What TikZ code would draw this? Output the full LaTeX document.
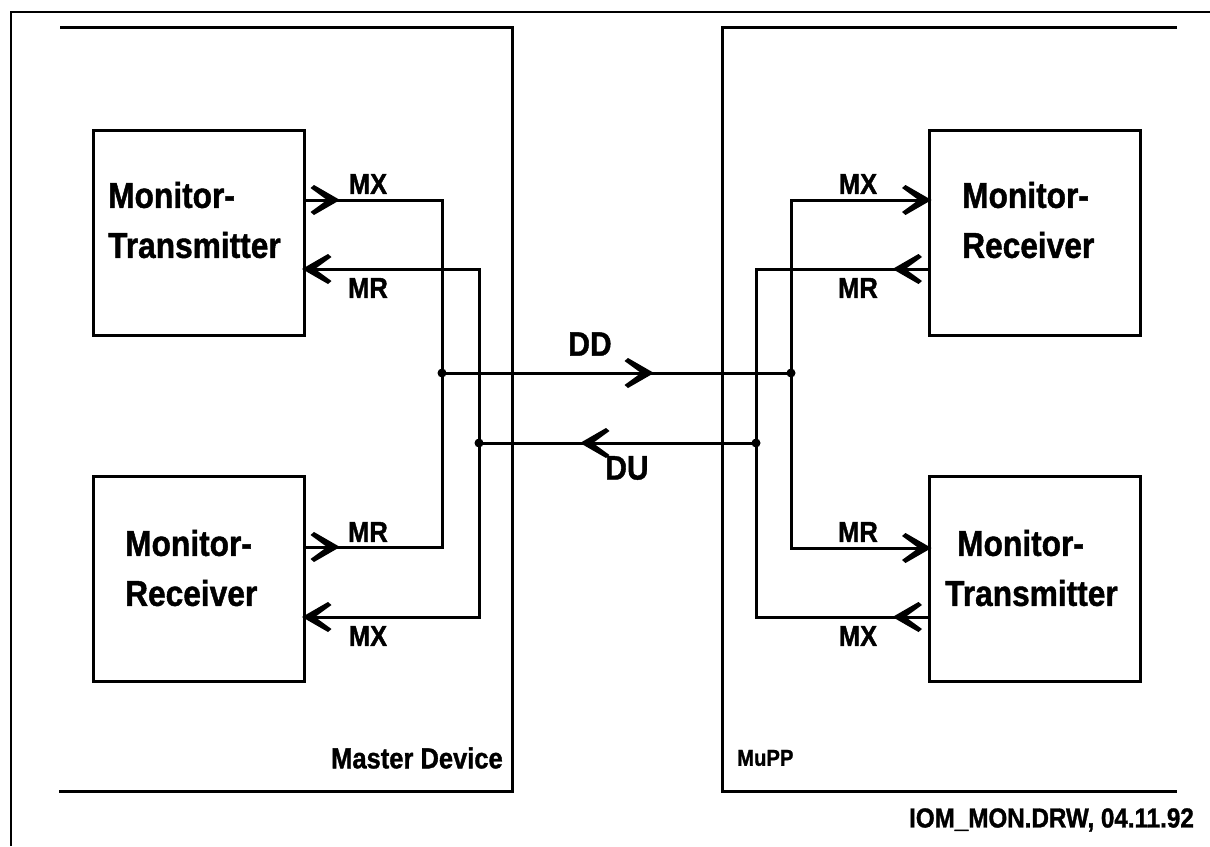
\documentclass[tikz,border=0pt]{standalone}
\usepackage{fontspec}
\setmainfont{Liberation Sans}[FakeStretch=0.88,BoldFeatures={FakeBold=1.2}]
\usetikzlibrary{decorations.markings,calc}
\begin{document}
\begin{tikzpicture}[x=1pt,y=-1pt,
  wire/.style={line width=3pt,line join=miter},
  frame/.style={line width=1.6pt},
  box/.style={draw,line width=3pt,minimum width=211pt,minimum height=205pt,inner sep=0pt,outer sep=0pt},
  boxtext/.style={font=\fontsize{36}{50}\selectfont\bfseries,align=left,inner sep=0pt,anchor=west},
  sig/.style={font=\fontsize{29}{30}\selectfont\bfseries,inner sep=0pt},
  bus/.style={font=\fontsize{34}{36}\selectfont\bfseries,inner sep=0pt},
  lbl/.style={font=\fontsize{29}{30}\selectfont\bfseries,inner sep=0pt},
  arrowat/.style={postaction={decorate},decoration={markings,mark=at position #1 with
    {\fill (2,0) -- (-24,-15) -- (-27.5,-12) -- (-11,0) -- (-27.5,12) -- (-24,15) -- cycle;}}},
  dot/.style={circle,fill,inner sep=0pt,minimum size=9pt},
]
\useasboundingbox (0,0) rectangle (1210,846);
% outer frame
\draw[frame] (11,846) -- (11,12) -- (1210,12);
% device frames
\draw[wire] (60,27) -- (512,27) -- (512,791) -- (59,791);
\draw[wire] (1177,27) -- (722,27) -- (722,791) -- (1177,791);
\node[lbl,anchor=east] (md) at (503,758) {Master Device};
\node[font=\fontsize{23}{24}\selectfont\bfseries,inner sep=0pt,anchor=west] (mupp) at (737,758) {MuPP};
\node[font=\fontsize{27.5}{30}\selectfont\bfseries,inner sep=0pt,anchor=east] (foot) at (1194,820) {IOM\_MON.DRW, 04.11.92};
% boxes
\node[box] (tl) at (198.5,232.5) {};
\node[box] (bl) at (198.5,579) {};
\node[box] (tr) at (1035,232.5) {};
\node[box] (br) at (1035,579) {};
\node[boxtext] (tlt) at (108,220) {Monitor-\\Transmitter};
\node[boxtext] (blt) at (125,568) {Monitor-\\Receiver};
\node[boxtext] (trt) at (962,220) {Monitor-\\Receiver};
\node[boxtext] (brt) at (945,568) {\hspace*{12pt}Monitor-\\Transmitter};
% junctions
\coordinate (jL1) at (442,373);
\coordinate (jL2) at (479,443);
\coordinate (jR1) at (791,373);
\coordinate (jR2) at (756,443);
% left wiring
\draw[wire,arrowat=34pt] (tl.east |- 0,200) -- (jL1 |- 0,200) -- (jL1);
\draw[wire,arrowat=34pt] (bl.east |- 0,547) -- (jL1 |- 0,547) -- (jL1);
\draw[wire,arrowat=1] (jL2) -- (jL2 |- 0,269) -- (tl.east |- 0,269);
\draw[wire,arrowat=1] (jL2) -- (jL2 |- 0,617) -- (bl.east |- 0,617);
% right wiring
\draw[wire,arrowat=1] (jR1) -- (jR1 |- 0,200) -- (tr.west |- 0,200);
\draw[wire,arrowat=1] (jR1) -- (jR1 |- 0,548) -- (br.west |- 0,548);
\draw[wire,arrowat=35pt] (tr.west |- 0,269) -- (jR2 |- 0,269) -- (jR2);
\draw[wire,arrowat=35pt] (br.west |- 0,617) -- (jR2 |- 0,617) -- (jR2);
% bus
\draw[wire,arrowat=210pt] (jL1) -- (jR1);
\draw[wire,arrowat=174pt] (jR2) -- (jL2);
\node[dot] (dL1) at (jL1) {};
\node[dot] (dL2) at (jL2) {};
\node[dot] (dR1) at (jR1) {};
\node[dot] (dR2) at (jR2) {};
% labels
\node[sig] (l1) at (368,184) {MX};
\node[sig] (l2) at (368,288) {MR};
\node[sig] (l3) at (368,532) {MR};
\node[sig] (l4) at (368,636) {MX};
\node[sig] (r1) at (858,184) {MX};
\node[sig] (r2) at (858,288) {MR};
\node[sig] (r3) at (858,532) {MR};
\node[sig] (r4) at (858,636) {MX};
\node[bus] (dd) at (590,344) {DD};
\node[bus] (du) at (627,468) {DU};
\end{tikzpicture}
\end{document}
